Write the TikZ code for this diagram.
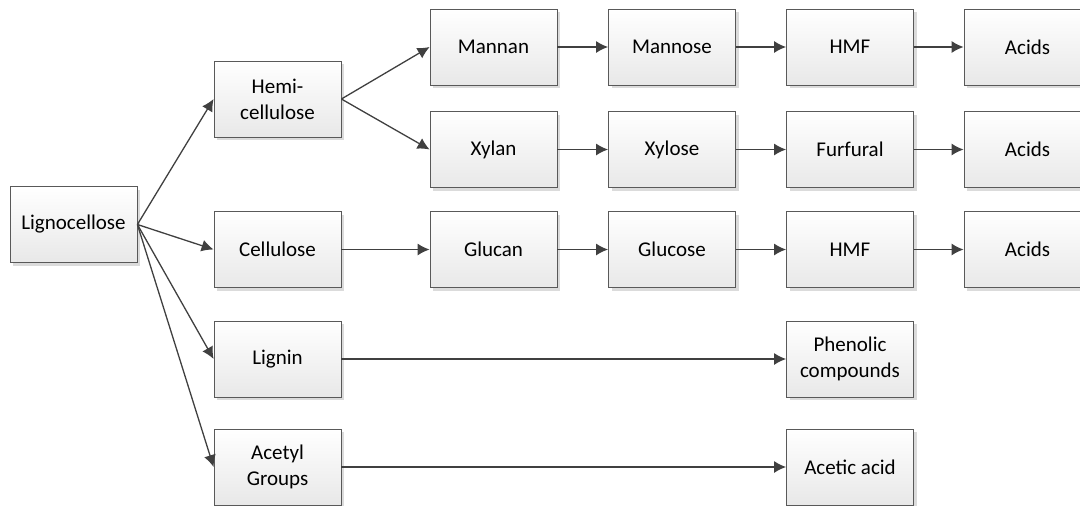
\documentclass[tikz,border=0pt]{standalone}
\usepackage{fontspec}
\setmainfont{Carlito}
\usetikzlibrary{arrows.meta,shadows}

\begin{document}
\begin{tikzpicture}[x=1pt,y=-1pt,
    stage/.style={draw=black!65,line width=0.8pt,top color=white,bottom color=black!9,
      minimum width=127pt,minimum height=76pt,inner sep=0pt,align=center,
      font=\fontsize{21}{26}\selectfont,
      drop shadow={shadow xshift=3pt,shadow yshift=-3pt,fill=black!14,opacity=1}},
    flow/.style={draw=black!75,line width=1.3pt,-{Latex[length=12pt,width=12pt]}}]
\clip (0,0) rectangle (1080,506);

\node [stage] (ligno)    at (  73.5,224.5) {Lignocellose};
\node [stage] (hemi)     at ( 277.5, 99)   {Hemi-\\cellulose};
\node [stage] (cellu)    at ( 277.5,249.5) {Cellulose};
\node [stage] (lignin)   at ( 277.5,359)   {Lignin};
\node [stage] (acetyl)   at ( 277.5,467)   {Acetyl\\Groups};

\node [stage] (mannan)   at ( 493.5, 47)   {Mannan};
\node [stage] (xylan)    at ( 493.5,149.5) {Xylan};
\node [stage] (glucan)   at ( 493.5,249.5) {Glucan};

\node [stage] (mannose)  at ( 672, 47)     {Mannose};
\node [stage] (xylose)   at ( 672,149.5)   {Xylose};
\node [stage] (glucose)  at ( 672,249.5)   {Glucose};

\node [stage] (hmfa)     at ( 850, 47)     {HMF};
\node [stage] (furfural) at ( 850,149.5)   {Furfural};
\node [stage] (hmfb)     at ( 850,249.5)   {HMF};
\node [stage] (phenolic) at ( 850,359)     {Phenolic\\compounds};
\node [stage] (acetic)   at ( 850,467)     {Acetic acid};

\node [stage] (acidsa)   at (1027.5, 47)   {Acids};
\node [stage] (acidsb)   at (1027.5,149.5) {Acids};
\node [stage] (acidsc)   at (1027.5,249.5) {Acids};

\draw [flow] (ligno.east) -- (hemi.west);
\draw [flow] (ligno.east) -- (cellu.west);
\draw [flow] (ligno.east) -- (lignin.west);
\draw [flow] (ligno.east) -- (acetyl.west);

\draw [flow] (hemi.east) -- (mannan.west);
\draw [flow] (hemi.east) -- (xylan.west);
\draw [flow] (cellu) -- (glucan);

\draw [flow] (mannan) -- (mannose);
\draw [flow] (mannose) -- (hmfa);
\draw [flow] (hmfa) -- (acidsa);
\draw [flow] (xylan) -- (xylose);
\draw [flow] (xylose) -- (furfural);
\draw [flow] (furfural) -- (acidsb);
\draw [flow] (glucan) -- (glucose);
\draw [flow] (glucose) -- (hmfb);
\draw [flow] (hmfb) -- (acidsc);

\draw [flow] (lignin) -- (phenolic);
\draw [flow] (acetyl) -- (acetic);
\end{tikzpicture}
\end{document}
